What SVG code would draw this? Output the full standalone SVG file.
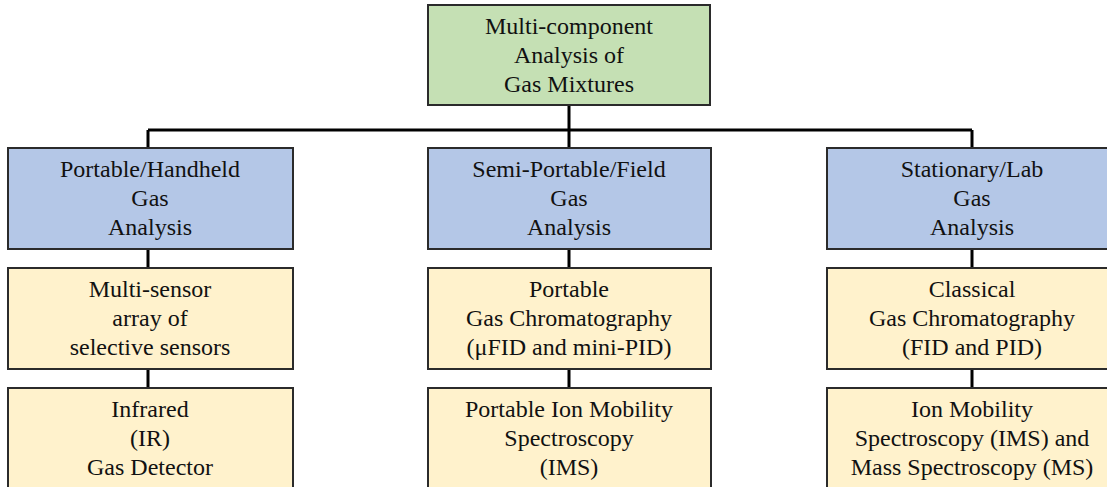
<svg xmlns="http://www.w3.org/2000/svg" width="1107" height="487" viewBox="0 0 1107 487">
<style>
.box{stroke:#2b2b2b;stroke-width:2}
.g{fill:#C5E0B4}
.b{fill:#B4C7E7}
.y{fill:#FFF2CC}
text{font-family:"Liberation Serif","Times New Roman",serif;font-size:24px;fill:#111;text-anchor:middle}
.c{stroke:#000;stroke-width:3;fill:none}
</style>
<rect width="1107" height="487" fill="#fff"/>
<g id="connectors">
<path class="c" d="M569,105V130M148,130H972M148,130V148M569,130V148M972,130V148"/>
<path class="c" d="M148,249V268M569,249V268M972,249V268"/>
<path class="c" d="M148,369V388M569,369V388M972,369V388"/>
</g>
<g id="root"><rect class="box g" x="428" y="5" width="282" height="100"/>
<text x="569" y="34">Multi-component</text><text x="569" y="63">Analysis of</text><text x="569" y="92">Gas Mixtures</text></g>
<g id="portable"><rect class="box b" x="8" y="148" width="285" height="101"/>
<text x="150" y="177">Portable/Handheld</text><text x="150" y="206">Gas</text><text x="150" y="235">Analysis</text></g>
<g id="semi"><rect class="box b" x="428" y="148" width="283" height="101"/>
<text x="569" y="177">Semi-Portable/Field</text><text x="569" y="206">Gas</text><text x="569" y="235">Analysis</text></g>
<g id="stationary"><rect class="box b" x="827" y="148" width="290" height="101"/>
<text x="972" y="177">Stationary/Lab</text><text x="972" y="206">Gas</text><text x="972" y="235">Analysis</text></g>
<g id="multisensor"><rect class="box y" x="8" y="268" width="285" height="101"/>
<text x="150" y="297">Multi-sensor</text><text x="150" y="326">array of</text><text x="150" y="355">selective sensors</text></g>
<g id="portable-gc"><rect class="box y" x="428" y="268" width="283" height="101"/>
<text x="569" y="297">Portable</text><text x="569" y="326">Gas Chromatography</text><text x="569" y="355">(μFID and mini-PID)</text></g>
<g id="classical-gc"><rect class="box y" x="827" y="268" width="290" height="101"/>
<text x="972" y="297">Classical</text><text x="972" y="326">Gas Chromatography</text><text x="972" y="355">(FID and PID)</text></g>
<g id="ir"><rect class="box y" x="8" y="388" width="285" height="110"/>
<text x="150" y="417">Infrared</text><text x="150" y="446">(IR)</text><text x="150" y="475">Gas Detector</text></g>
<g id="portable-ims"><rect class="box y" x="428" y="388" width="283" height="110"/>
<text x="569" y="417">Portable Ion Mobility</text><text x="569" y="446">Spectroscopy</text><text x="569" y="475">(IMS)</text></g>
<g id="ims-ms"><rect class="box y" x="827" y="388" width="290" height="110"/>
<text x="972" y="417">Ion Mobility</text><text x="972" y="446">Spectroscopy (IMS) and</text><text x="972" y="475">Mass Spectroscopy (MS)</text></g>
</svg>
